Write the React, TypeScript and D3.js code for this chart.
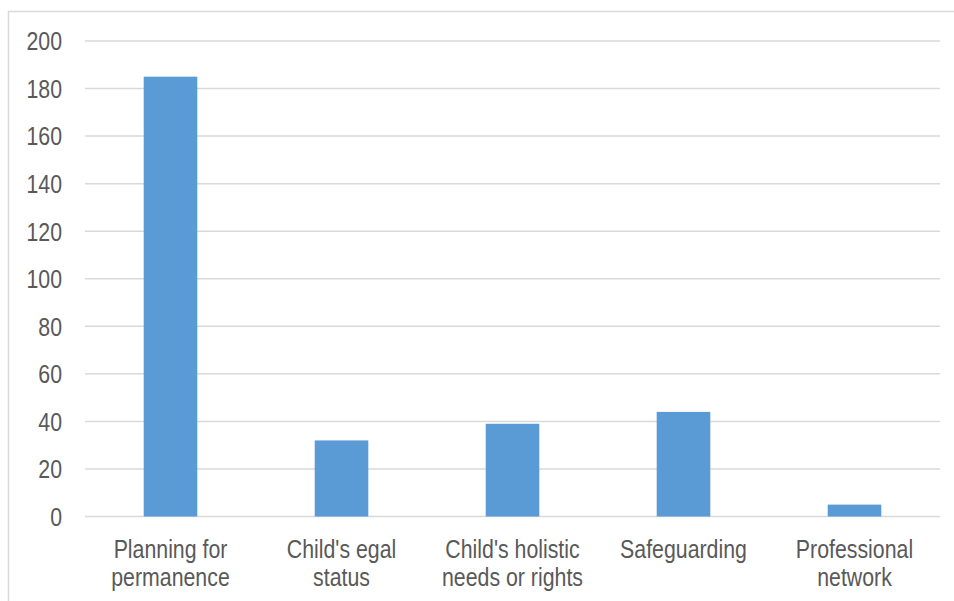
import React, { useEffect, useRef } from 'react';
import * as d3 from 'd3';

const categories = [
  ['Planning for', 'permanence'],
  ["Child's egal", 'status'],
  ["Child's holistic", 'needs or rights'],
  ['Safeguarding'],
  ['Professional', 'network'],
];
const values = [185, 32, 39, 44, 5];
const yTicks = [0, 20, 40, 60, 80, 100, 120, 140, 160, 180, 200];

const width = 954;
const height = 601;
// no narrow font available, so Liberation Sans squeezed horizontally
const FONT = "'Liberation Sans', Arial, sans-serif";
const SQUEEZE = 0.82;

const App = () => {
  const ref = useRef<SVGSVGElement>(null);

  useEffect(() => {
    const svg = d3.select(ref.current);
    svg.selectAll('*').remove();

    const keys = categories.map((c) => c.join(' '));
    const x = d3.scaleBand<string>().domain(keys).range([85, 940]).padding(0);
    const y = d3.scaleLinear().domain([0, 200]).range([516.5, 41]);
    const barW = x.bandwidth() / 3.19;

    // chart area border
    svg
      .append('rect')
      .attr('x', 8.5)
      .attr('y', 11.5)
      .attr('width', 1000)
      .attr('height', 700)
      .attr('fill', 'white')
      .attr('stroke', '#d9d9d9')
      .attr('stroke-width', 1.5);

    // gridlines
    svg
      .append('g')
      .selectAll('line')
      .data(yTicks)
      .join('line')
      .attr('x1', 85)
      .attr('x2', 940)
      .attr('y1', (d) => y(d))
      .attr('y2', (d) => y(d))
      .attr('stroke', '#d9d9d9')
      .attr('stroke-width', 1.5);

    // y labels
    svg
      .append('g')
      .selectAll('text')
      .data(yTicks)
      .join('text')
      .attr('transform', (d) => `translate(62,${y(d)}) scale(${SQUEEZE},1)`)
      .attr('dy', '0.36em')
      .attr('text-anchor', 'end')
      .attr('font-family', FONT)
      .attr('font-size', 26)
      .attr('fill', '#595959')
      .text((d) => d);

    // bars
    svg
      .append('g')
      .selectAll('rect')
      .data(values)
      .join('rect')
      .attr('x', (_, i) => (x(keys[i]) as number) + (x.bandwidth() - barW) / 2)
      .attr('y', (d) => y(d))
      .attr('width', barW)
      .attr('height', (d) => y(0) - y(d))
      .attr('fill', '#5b9bd5');

    // category labels
    const lab = svg
      .append('g')
      .selectAll('text')
      .data(categories)
      .join('text')
      .attr('transform', (_, i) => {
        const cx = (x(keys[i]) as number) + x.bandwidth() / 2;
        return `translate(${cx},557.5) scale(${SQUEEZE},1)`;
      })
      .attr('text-anchor', 'middle')
      .attr('font-family', FONT)
      .attr('font-size', 26)
      .attr('fill', '#595959');

    lab.each(function (lines) {
      d3.select(this)
        .selectAll('tspan')
        .data(lines)
        .join('tspan')
        .attr('x', 0)
        .attr('y', (_, j) => j * 28.5)
        .text((d) => d);
    });
  }, []);

  return (
    <svg
      ref={ref}
      width={width}
      height={height}
      style={{ position: 'absolute', left: 0, top: 0, background: 'white' }}
    />
  );
};

export default App;
